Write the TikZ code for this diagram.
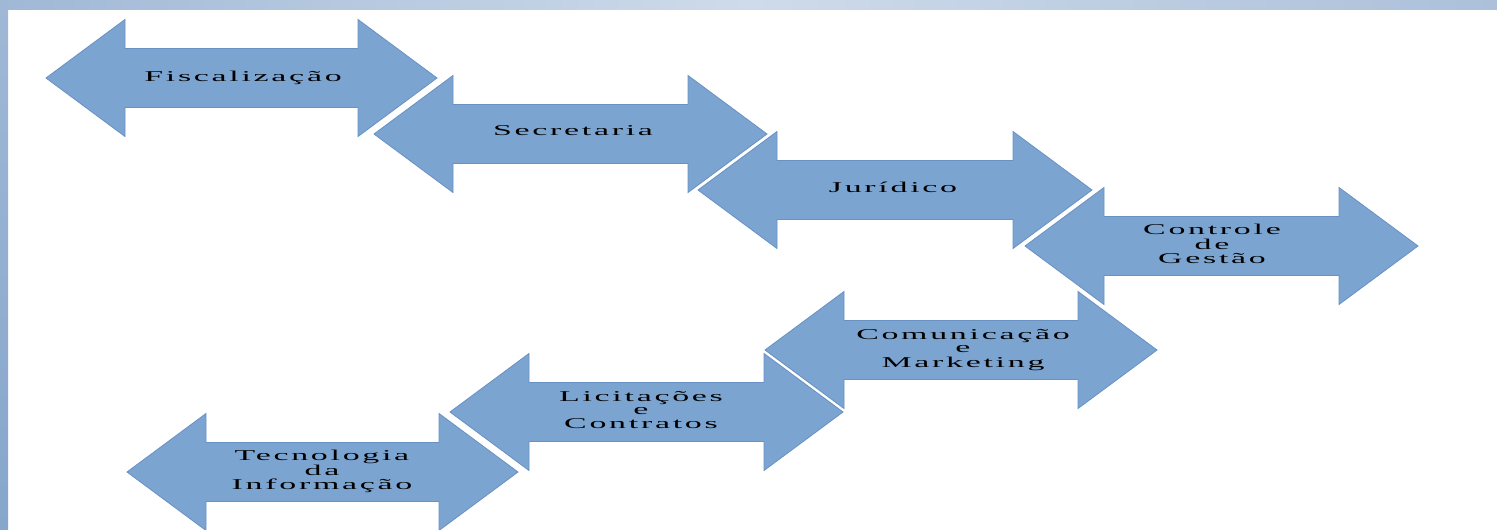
\documentclass[tikz,border=0pt]{standalone}
\usepackage{fontspec}
\usepackage{graphicx}
\newfontfamily\lblfont[LetterSpace=8]{Liberation Serif}
\definecolor{arrowblue}{RGB}{123,164,209}
\definecolor{arrowedge}{RGB}{104,145,196}
\definecolor{bandA}{RGB}{160,184,214}
\definecolor{bandB}{RGB}{206,219,234}
\definecolor{bandC}{RGB}{172,192,218}
\definecolor{bandD}{RGB}{134,166,204}
\newcommand{\lbltext}[1]{\scalebox{2.26}[1]{\begin{tabular}{@{}c@{}}#1\end{tabular}}}
% double arrow path: left tip x, right tip x, centre y
\newcommand{\dblarrowpath}[3]{(#1,#3) -- (#1+79,#3-58.5) -- (#1+79,#3-29.5) -- (#2-79,#3-29.5) -- (#2-79,#3-58.5) -- (#2,#3) -- (#2-79,#3+58.5) -- (#2-79,#3+29.5) -- (#1+79,#3+29.5) -- (#1+79,#3+58.5) -- cycle}
\tikzset{
  arrowshape/.style={fill=arrowblue, draw=arrowedge, line width=0.8pt, line join=miter,
    preaction={draw=white, line width=3.5pt}},
  lbl/.style={inner sep=0pt, text=black, font=\lblfont\fontsize{15}{13.5}\selectfont}
}
\begin{document}
\begin{tikzpicture}[x=1pt,y=-1pt]
\useasboundingbox (0,0) rectangle (1497,530);
\fill[white] (0,0) rectangle (1497,530);
% frame bands
\shade[left color=bandA, right color=bandC, middle color=bandB] (0,0) rectangle (1497,9);
\shade[top color=bandA, bottom color=bandD] (0,0) rectangle (8,530);
% lower row
\path[arrowshape] \dblarrowpath{127}{518}{472};
\node[lbl] (tec) at (322,472) {\lbltext{Tecnologia\\da\\Informação}};
\path[arrowshape] \dblarrowpath{450}{843}{412};
\node[lbl] (lic) at (641,412) {\lbltext{Licitações\\e\\Contratos}};
\path[arrowshape] \dblarrowpath{765}{1157}{350};
\node[lbl] (com) at (963,350) {\lbltext{Comunicação\\e\\Marketing}};
% upper row
\path[arrowshape] \dblarrowpath{46}{437}{78};
\node[lbl] (fis) at (243,78) {\lbltext{Fiscalização}};
\path[arrowshape] \dblarrowpath{374}{767}{134};
\node[lbl] (sec) at (573,133) {\lbltext{Secretaria}};
\path[arrowshape] \dblarrowpath{698}{1092}{190};
\node[lbl] (jur) at (893,189) {\lbltext{Jurídico}};
\path[arrowshape] \dblarrowpath{1025}{1418}{246};
\node[lbl] (ctl) at (1212,246) {\lbltext{Controle\\de\\Gestão}};
\end{tikzpicture}
\end{document}
